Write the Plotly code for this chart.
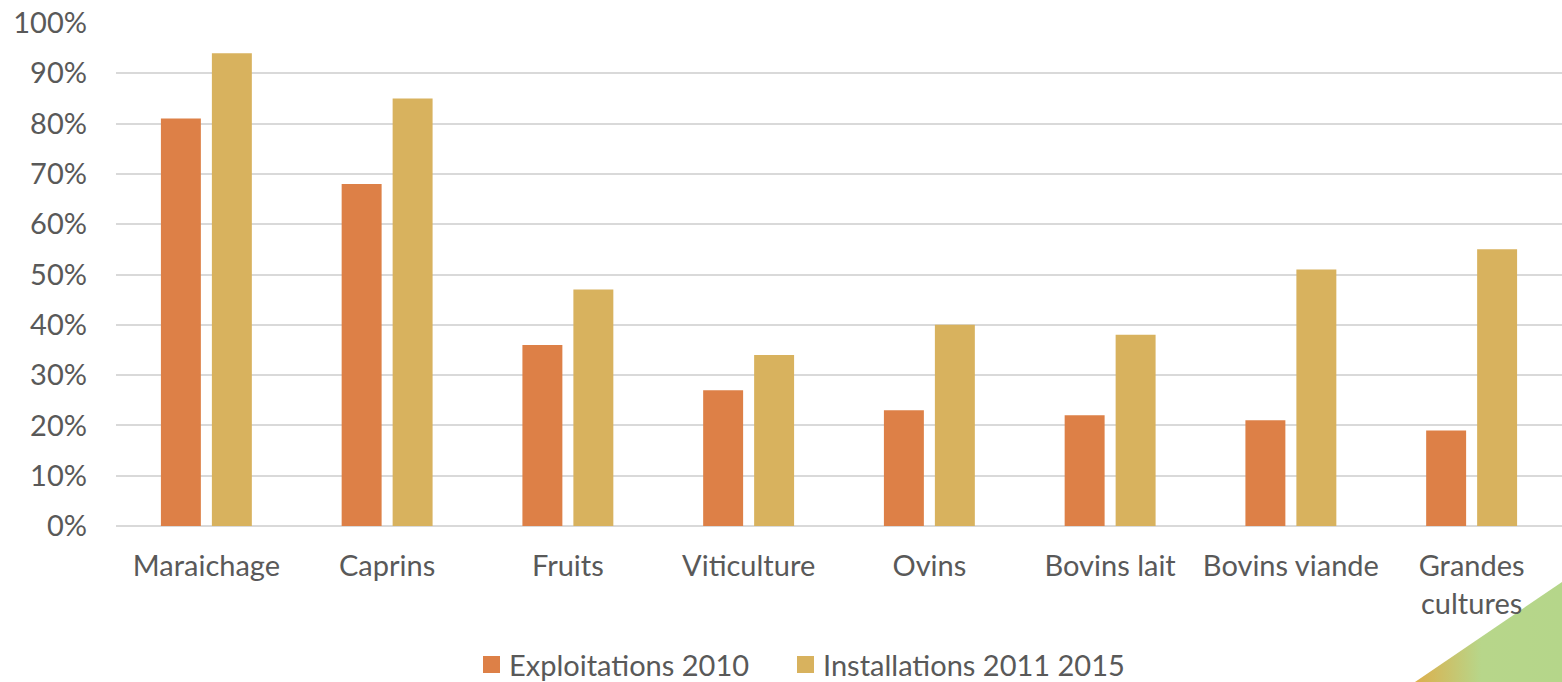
import plotly.graph_objects as go

categories = ["Maraichage", "Caprins", "Fruits", "Viticulture", "Ovins",
              "Bovins lait", "Bovins viande", "Grandes<br>cultures"]
exploitations_2010 = [81, 68, 36, 27, 23, 22, 21, 19]
installations_2011_2015 = [94, 85, 47, 34, 40, 38, 51, 55]
series_names = ["Exploitations 2010", "Installations 2011 2015"]
series_colors = ["#DD8047", "#D8B25E"]
y_ticks = [0, 10, 20, 30, 40, 50, 60, 70, 80, 90, 100]
y_tick_labels = [f"{v}%" for v in y_ticks]

W, H = 1562, 682
FONT = "Lato, Open Sans, sans-serif"
TXT = "#595959"
FS = 29

fig = go.Figure()

# decorative corner triangle on a full-page axis pair (drawn first, beneath the chart)
fig.add_trace(go.Scatter(x=[1415, 1562, 1562, 1415], y=[0, 100, 0, 0],
                         xaxis="x", yaxis="y", mode="lines", line=dict(width=0),
                         fill="toself", showlegend=False, hoverinfo="skip",
                         fillgradient=dict(type="horizontal",
                                           colorscale=[[0, "#DDAF4C"], [0.45, "#B7D68A"], [1, "#B5D68A"]])))

for vals, name, col in zip([exploitations_2010, installations_2011_2015], series_names, series_colors):
    fig.add_trace(go.Bar(x=categories, y=vals, name=name, xaxis="x2", yaxis="y2",
                         marker=dict(color=col, line=dict(width=0))))

# legend drawn as squares + text (pixel positions converted to paper fractions)
legend_x = [483, 797]
LEG_Y = 664
shapes, annotations = [], []
for lx, name, col in zip(legend_x, series_names, series_colors):
    shapes.append(dict(type="rect", xref="paper", yref="paper",
                       x0=lx / W, x1=(lx + 17) / W, y0=(H - LEG_Y - 9) / H, y1=(H - LEG_Y + 8) / H,
                       fillcolor=col, line=dict(width=0), layer="above"))
    annotations.append(dict(text=name, xref="paper", yref="paper", showarrow=False,
                            x=(lx + 24) / W, xanchor="left", y=(H - LEG_Y) / H, yanchor="middle",
                            font=dict(size=FS, color=TXT, family=FONT)))

fig.update_layout(
    width=W, height=H,
    margin=dict(l=0, r=0, t=0, b=0, autoexpand=False),
    paper_bgcolor="white", plot_bgcolor="rgba(0,0,0,0)",
    barmode="group", bargap=0.436, bargroupgap=0.216,
    font=dict(family=FONT, size=FS, color=TXT),
    xaxis=dict(domain=[0, 1], range=[0, W], visible=False, anchor="y", automargin=False,
               fixedrange=True),
    yaxis=dict(domain=[0, 1], range=[0, H], visible=False, anchor="x", automargin=False,
               fixedrange=True),
    xaxis2=dict(domain=[116 / W, 1], anchor="y2", showgrid=False, showline=False, zeroline=False,
                ticks="", tickfont=dict(size=FS, color=TXT), ticklabelstandoff=20,
                automargin=False, fixedrange=True),
    yaxis2=dict(domain=[(H - 526) / H, (H - 23) / H], range=[0, 100], anchor="x2",
                tickvals=y_ticks, ticktext=y_tick_labels,
                showgrid=True, gridcolor="#D9D9D9", gridwidth=1.5,
                zeroline=True, zerolinecolor="#D9D9D9", zerolinewidth=1.5,
                showline=False, ticks="", tickfont=dict(size=FS, color=TXT),
                ticklabelstandoff=28, automargin=False),
    shapes=shapes, annotations=annotations,
    showlegend=False,
)

fig.write_html("out.html", config={"displayModeBar": False},
               post_script="document.body.style.margin='0';document.body.style.overflow='hidden';")
